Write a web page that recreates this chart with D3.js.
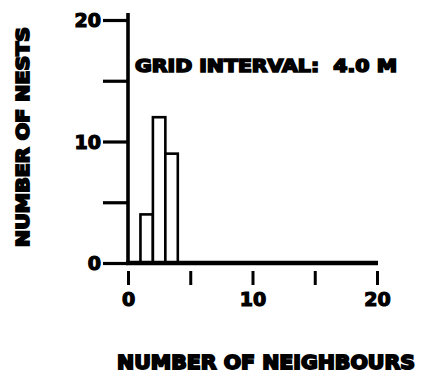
<!DOCTYPE html>
<html>
<head>
<meta charset="utf-8">
<script src="https://cdn.jsdelivr.net/npm/d3@7/dist/d3.min.js"></script>
<style>
  html, body { margin: 0; padding: 0; background: #fff; }
  svg { display: block; }
  text { font-family: "DejaVu Sans", sans-serif; font-weight: bold; fill: #000; }
</style>
</head>
<body>
<svg id="chart" width="422" height="379"></svg>
<script>
// Histogram: number of nests by number of neighbours
const binStart = [1, 2, 3];          // left edge of each bin (neighbours)
const nestCounts = [4, 12, 9];       // nests in each bin
const xTicks = [0, 5, 10, 15, 20];
const xTickLabels = ["0", "", "10", "", "20"];
const yTicks = [0, 5, 10, 15, 20];
const yTickLabels = ["0", "", "10", "", "20"];
const title = "GRID INTERVAL:\u00a0\u00a04.0 M";
const xTitle = "NUMBER OF NEIGHBOURS";
const yTitle = "NUMBER OF NESTS";

const svg = d3.select("#chart");

const x = d3.scaleLinear().domain([0, 20]).range([128, 377]);
const y = d3.scaleLinear().domain([0, 20]).range([263, 20]);

const ink = "#000";

// bars
svg.append("g").selectAll("rect")
  .data(binStart.map((b, i) => ({ b, v: nestCounts[i] })))
  .join("rect")
  .attr("x", d => x(d.b))
  .attr("y", d => y(d.v))
  .attr("width", d => x(d.b + 1) - x(d.b))
  .attr("height", d => y(0) - y(d.v))
  .attr("fill", "#fff")
  .attr("stroke", ink)
  .attr("stroke-width", 2.6);

// y axis: ticks pointing left, labels at 0, 10, 20
const yAxis = d3.axisLeft(y)
  .tickValues(yTicks)
  .tickSize(25)
  .tickPadding(2)
  .tickFormat((d, i) => yTickLabels[i]);
const gy = svg.append("g").attr("transform", `translate(${x(0)},0)`).call(yAxis);
gy.select(".domain").remove();
gy.selectAll(".tick line").attr("stroke", ink).attr("stroke-width", 3.2);
gy.selectAll(".tick text")
  .attr("font-size", 19)
  .attr("font-family", "DejaVu Sans")
  .attr("font-weight", "bold")
  .attr("stroke", ink).attr("stroke-width", 1.2)
  .attr("dy", "0.36em");

// vertical axis line
svg.append("line")
  .attr("x1", x(0)).attr("x2", x(0))
  .attr("y1", 13).attr("y2", y(0) + 2)
  .attr("stroke", ink).attr("stroke-width", 3.6);

// baseline
svg.append("line")
  .attr("x1", x(0) - 2).attr("x2", x(20) + 1)
  .attr("y1", y(0)).attr("y2", y(0))
  .attr("stroke", ink).attr("stroke-width", 4.5);

// x axis: short ticks below with a gap, labels at 0, 10, 20
const xAxis = d3.axisBottom(x)
  .tickValues(xTicks)
  .tickSize(14)
  .tickPadding(8)
  .tickFormat((d, i) => xTickLabels[i]);
const gx = svg.append("g").attr("transform", `translate(0,${y(0) + 8})`).call(xAxis);
gx.select(".domain").remove();
gx.selectAll(".tick line").attr("stroke", ink).attr("stroke-width", 3);
gx.selectAll(".tick text")
  .attr("font-size", 19)
  .attr("font-family", "DejaVu Sans")
  .attr("font-weight", "bold")
  .attr("stroke", ink).attr("stroke-width", 1.2);

// in-plot title
svg.append("text")
  .attr("x", 135).attr("y", 72)
  .attr("font-size", 17)
  .attr("textLength", 262).attr("lengthAdjust", "spacingAndGlyphs")
  .attr("stroke", ink).attr("stroke-width", 1.6)
  .text(title);

// x axis title
svg.append("text")
  .attr("x", 117).attr("y", 369)
  .attr("font-size", 19)
  .attr("textLength", 298).attr("lengthAdjust", "spacingAndGlyphs")
  .attr("stroke", ink).attr("stroke-width", 1.8)
  .text(xTitle);

// y axis title
svg.append("text")
  .attr("transform", "translate(29,247) rotate(-90)")
  .attr("font-size", 18)
  .attr("textLength", 220).attr("lengthAdjust", "spacingAndGlyphs")
  .attr("stroke", ink).attr("stroke-width", 1.8)
  .text(yTitle);
</script>
</body>
</html>
